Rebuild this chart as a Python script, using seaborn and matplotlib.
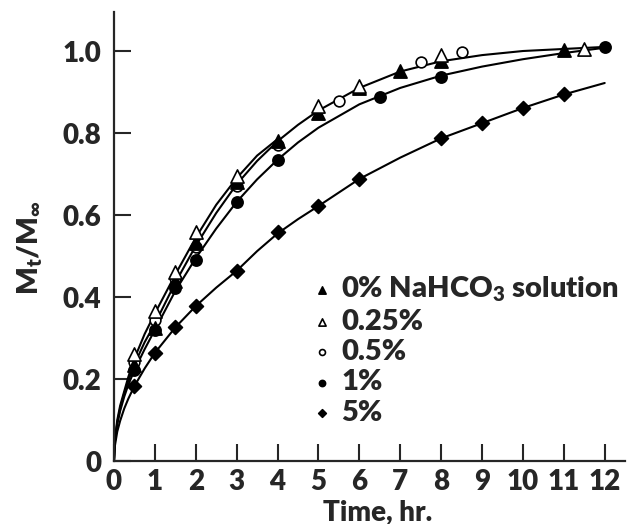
import numpy as np
import pandas as pd
import matplotlib.pyplot as plt
import seaborn as sns

# measured points (time in hr, fraction released)
t_0 = [0.5, 1, 1.5, 2, 3, 4, 5, 6, 7, 8, 11]
f_0 = [0.235, 0.325, 0.44, 0.533, 0.68, 0.78, 0.85, 0.91, 0.952, 0.976, 1.003]
t_025 = [0.5, 1, 1.5, 2, 3, 5, 6, 8, 11.5]
f_025 = [0.262, 0.367, 0.46, 0.558, 0.695, 0.865, 0.915, 0.99, 1.005]
t_05 = [0.5, 1, 1.5, 2, 3, 4, 5.5, 7.5, 8.5]
f_05 = [0.242, 0.345, 0.447, 0.523, 0.67, 0.77, 0.878, 0.972, 0.997]
t_1 = [0.5, 1, 1.5, 2, 3, 4, 6.5, 8, 12]
f_1 = [0.222, 0.32, 0.423, 0.491, 0.632, 0.734, 0.887, 0.937, 1.01]
t_5 = [0.5, 1, 1.5, 2, 3, 4, 5, 6, 8, 9, 10, 11]
f_5 = [0.183, 0.264, 0.326, 0.378, 0.464, 0.558, 0.622, 0.688, 0.787, 0.824, 0.861, 0.895]

# drawn curves
curve_t = [0, 0.02, 0.08, 0.15, 0.25, 0.35, 0.5, 0.75, 1, 1.5, 2, 2.5, 3, 3.5, 4,
           4.5, 5, 6, 7, 8, 9, 10, 11, 12]
curve_top = [0, 0.05, 0.1, 0.135, 0.17, 0.205, 0.25, 0.31, 0.36, 0.455, 0.545,
             0.625, 0.69, 0.745, 0.785]
curve_low = [0, 0.047, 0.094, 0.128, 0.165, 0.196, 0.236, 0.29, 0.335, 0.435, 0.525,
             0.605, 0.675, 0.732, 0.78, 0.82, 0.855, 0.91, 0.95, 0.975, 0.99, 1.0,
             1.005, 1.01]
curve_1 = [0, 0.045, 0.09, 0.122, 0.157, 0.186, 0.222, 0.273, 0.32, 0.415, 0.495,
           0.567, 0.632, 0.687, 0.735, 0.777, 0.813, 0.87, 0.91, 0.94, 0.962, 0.98,
           0.995, 1.008]
curve_5 = [0, 0.036, 0.072, 0.098, 0.128, 0.152, 0.183, 0.226, 0.264, 0.326, 0.378,
           0.423, 0.464, 0.512, 0.555, 0.59, 0.622, 0.688, 0.74, 0.787, 0.824, 0.861,
           0.894, 0.922]

x_ticks = list(range(13))
y_ticks = [0, 0.2, 0.4, 0.6, 0.8, 1.0]
y_tick_labels = ["0", "0.2", "0.4", "0.6", "0.8", "1.0"]

sns.set_style("ticks")
plt.rcParams['font.family'] = ['Lato', 'DejaVu Sans']
plt.rcParams['font.weight'] = 'heavy'
plt.rcParams['axes.labelweight'] = 'heavy'
plt.rcParams['mathtext.default'] = 'regular'

fig = plt.figure(figsize=(6.35, 5.24), dpi=100)
ax = fig.add_axes([0.1795, 0.120, 0.805, 0.857])

for ys, xs in [(curve_top, curve_t[:len(curve_top)]), (curve_low, curve_t),
               (curve_1, curve_t), (curve_5, curve_t)]:
    sns.lineplot(x=xs, y=ys, color='black', lw=1.5, sort=False, estimator=None, ax=ax)

series = [
    (t_5, f_5, 'D', 'black', '5%', 50),
    (t_1, f_1, 'o', 'black', '1%', 65),
    (t_05, f_05, 'o', 'white', '0.5%', 60),
    (t_0, f_0, '^', 'black', r'0% NaHCO$_3$ solution', 90),
    (t_025, f_025, '^', 'white', '0.25%', 90),
]
for xs, ys, mk, fc, lab, s in series:
    sns.scatterplot(x=xs, y=ys, marker=mk, s=s, color=fc, edgecolor='black',
                    linewidth=1.2, label=lab, ax=ax, zorder=3)

ax.set_xlim(0, 12.5)
ax.set_ylim(0, 1.095)
ax.set_xticks(x_ticks)
ax.set_yticks(y_ticks)
ax.set_yticklabels(y_tick_labels)
ax.tick_params(direction='in', length=12, width=1.5, labelsize=20, pad=6)
ax.tick_params(axis='y', pad=9)
for sp in ['left', 'bottom']:
    ax.spines[sp].set_linewidth(1.6)
sns.despine(ax=ax)

ax.set_xlabel('Time, hr.', fontsize=20)
ax.xaxis.set_label_coords(0.515, -0.085)
ax.set_ylabel(r'$M_t/M_\infty$', fontsize=21)
ax.yaxis.set_label_coords(-0.135, 0.475)

h, l = ax.get_legend_handles_labels()
order = [3, 4, 2, 1, 0]
ax.legend([h[i] for i in order], [l[i] for i in order], loc='upper left',
          bbox_to_anchor=(0.39, 0.415), frameon=False, fontsize=21,
          markerscale=0.55, handlelength=0.6, handletextpad=0.35,
          labelspacing=0.15, borderpad=0, borderaxespad=0)

fig.savefig('out.png', dpi=100)
